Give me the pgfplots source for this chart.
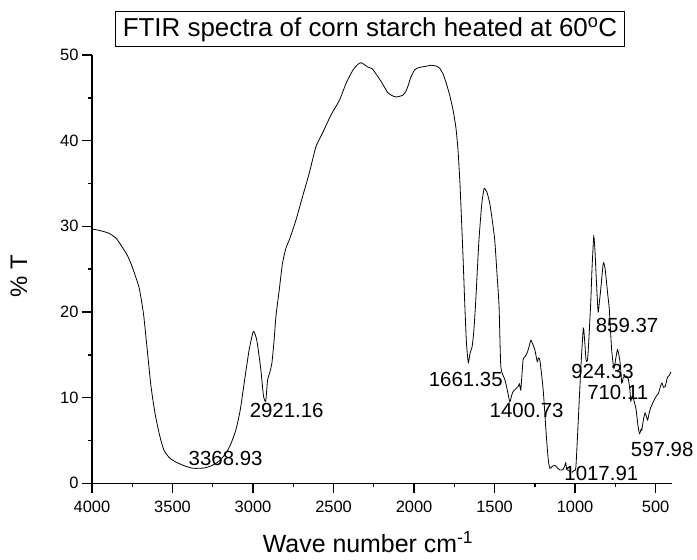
\documentclass[border=0pt]{standalone}
\usepackage{fontspec}
\setmainfont{Liberation Sans}
\usepackage{pgfplots}
\pgfplotsset{compat=1.18}
\begin{document}
\begin{tikzpicture}[x=1bp,y=1bp]
\begin{axis}[
  at={(92bp,-483.3bp)}, anchor=south west,
  scale only axis, width=579.7bp, height=428.3bp,
  x dir=reverse, xmin=400, xmax=4000, ymin=0, ymax=50,
  axis x line*=bottom, axis y line*=left,
  x axis line style={-, line width=1.6bp},
  y axis line style={-, line width=1.6bp},
  every tick/.style={black, line width=1.4bp},
  tick align=outside,
  major tick length=10bp, minor tick length=4bp,
  xtick={500,1000,...,4000}, minor xtick={750,1250,...,3750},
  ytick={0,10,...,50}, minor ytick={5,15,...,45},
  /pgf/number format/assume math mode=true,
  /pgf/number format/set thousands separator={},
  tick label style={font=\fontsize{16.5}{19}\selectfont},
  xticklabel style={yshift=-4bp},
  clip=false,
]
\addplot[black, line width=0.8bp, smooth, tension=0.35] coordinates {
(4000,29.7) (3950,29.5) (3896,29.2) (3850,28.6) (3813,27.6) (3780,26.6)
(3751,25.3) (3709,22.95) (3690,21.0) (3678,19.45) (3657,15.6) (3636,11.7)
(3620,9.5) (3605,7.8) (3580,5.6) (3554,3.9) (3520,3.0) (3481,2.5)
(3420,2.0) (3369,1.75) (3300,1.8) (3253,2.1) (3210,2.6) (3169,3.5)
(3140,4.5) (3107,6.2) (3080,8.5) (3055,11.7) (3024,15.6) (2999,17.7)
(2985,17.3) (2973,16.3) (2951,13.2) (2935,10.2) (2921,9.6) (2910,12.0)
(2895,13.0) (2883,14.0) (2870,16.5) (2858,19.45) (2848,21.0) (2837,22.6)
(2817,25.7) (2795,27.5) (2775,28.4) (2734,30.7) (2692,33.5) (2651,36.2)
(2609,39.3) (2568,40.9) (2516,43.0) (2464,44.7) (2422,46.7) (2381,48.2)
(2350,48.9) (2329,49.1) (2310,48.9) (2288,48.6) (2260,48.4) (2246,48.05)
(2204,46.9) (2163,45.6) (2130,45.2) (2111,45.1) (2070,45.3) (2050,45.8)
(2039,46.3) (2020,47.4) (1997,48.25) (1975,48.5) (1955,48.6) (1920,48.7)
(1893,48.8) (1860,48.7) (1841,48.45) (1820,47.8) (1800,46.7) (1780,45.4)
(1758,43.6) (1740,41.5) (1727,38.9) (1715,35.0) (1706,31.1) (1695,26.0)
(1686,21.4) (1675,16.5) (1663,14.1) (1652,15.2) (1640,15.9) (1630,17.5)
(1619,20.6) (1608,24.5) (1597,28.4) (1580,32.5) (1565,34.4) (1548,34.0)
(1530,32.7) (1515,30.8) (1499,28.4) (1485,24.5) (1472,20.6) (1461,13.6)
(1436,12.1) (1420,10.8) (1405,9.5) (1395,10.2) (1385,10.7) (1370,11.0)
(1354,11.3) (1345,11.6) (1337,10.9) (1323,14.4) (1310,14.8) (1298,15.2)
(1285,16.0) (1275,16.7) (1262,16.2) (1250,15.6) (1235,14.2) (1228,14.6)
(1219,14.4) (1198,10.9) (1177,5.1) (1165,2.5) (1156,1.75) (1140,2.0)
(1125,2.1) (1110,1.8) (1094,1.55) (1075,1.6) (1063,2.1) (1058,2.4)
(1052,1.6) (1040,1.5) (1032,1.35) (1018,1.3) (1005,1.5) (995,1.9)
(980,7.4) (965,13.2) (949,18.1) (940,16.5) (932,14.4) (924,14.3)
(918,15.6) (903,21.0) (895,25.0) (884,28.8) (876,27.0) (868,23.7)
(857,20.0) (850,21.0) (841,22.6) (825,25.7) (815,25.2) (808,24.1)
(797,22.0) (787,20.2) (773,15.6) (759,13.4) (748,14.5) (737,15.6)
(728,15.0) (720,14.0) (710,11.7) (700,12.4) (689,12.4) (680,12.5)
(669,12.1) (660,11.0) (654,9.6) (645,10.2) (632,9.5) (621,8.6)
(610,6.8) (600,5.8) (590,6.3) (586,6.2) (575,7.5) (565,8.2)
(550,7.4) (540,8.2) (529,8.9) (509,9.7) (495,10.2) (482,10.5)
(470,11.3) (461,11.7) (450,11.2) (440,11.3) (426,12.4) (415,12.6)
(405,13.0)
};
\begin{scope}[font=\fontsize{20.5}{24}\selectfont]
\node at (axis cs:3170,2.9) {3368.93};
\node at (axis cs:2791,8.45) {2921.16};
\node at (axis cs:1679,12.1) {1661.35};
\node at (axis cs:1301,8.45) {1400.73};
\node at (axis cs:837,1.1) {1017.91};
\node at (axis cs:829,13.0) {924.33};
\node at (axis cs:677,18.4) {859.37};
\node at (axis cs:735,10.6) {710.11};
\node at (axis cs:459,4.0) {597.98};
\end{scope}
\end{axis}
\node[draw, line width=1bp, minimum width=508bp, minimum height=35bp, inner sep=0pt,
  font=\fontsize{26}{30}\selectfont] at (370,-29.5) {FTIR spectra of corn starch heated at 60\textsuperscript{o}C};
\node[anchor=base, font=\fontsize{25}{29}\selectfont] at (368,-552) {Wave number cm\textsuperscript{-1}};
\node[rotate=90, font=\fontsize{24}{28}\selectfont] at (19,-276) {\% T};
\pgfresetboundingbox
\useasboundingbox (0,0) rectangle (697,-560);
\end{tikzpicture}
\end{document}
